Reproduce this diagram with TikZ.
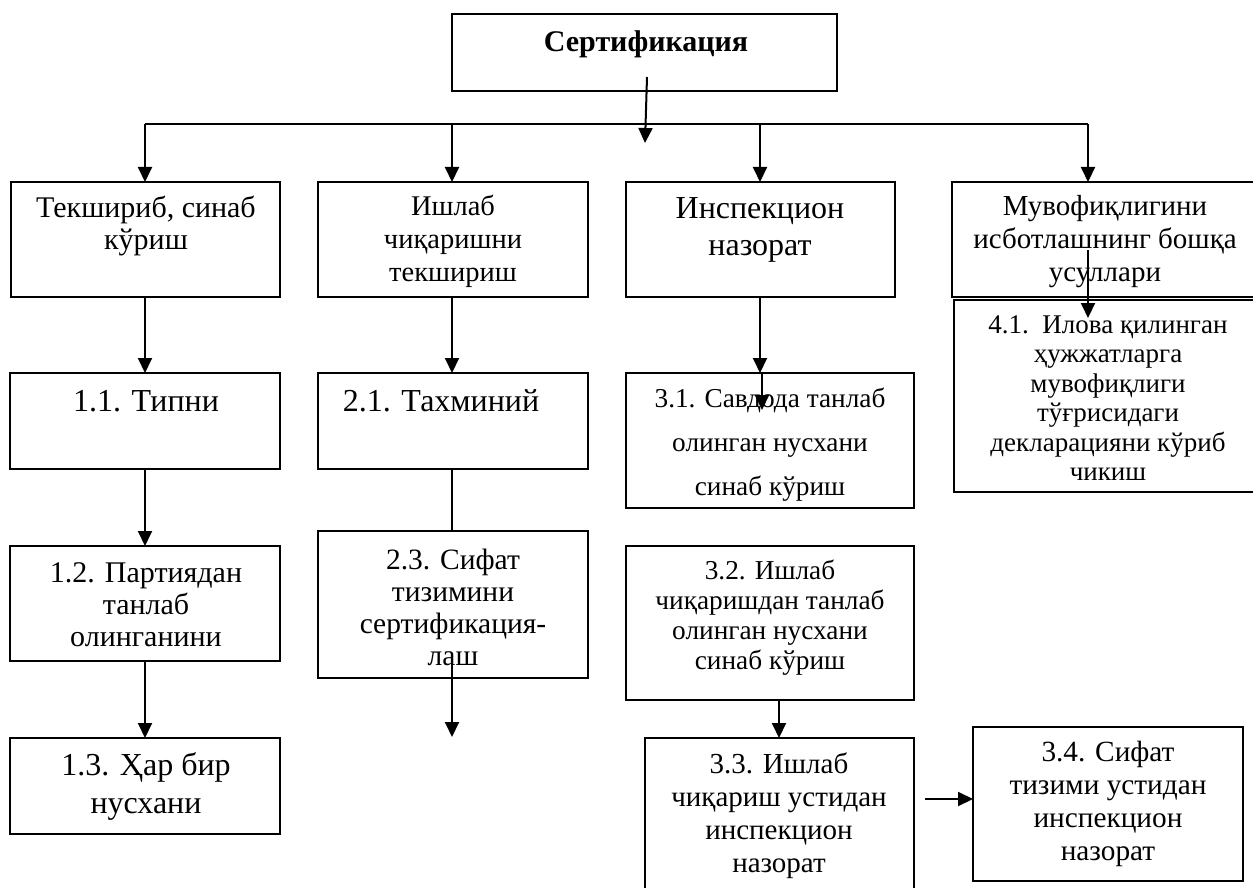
\documentclass[tikz,border=0pt]{standalone}
\usepackage{fontspec}
\setmainfont{Liberation Serif}
\usetikzlibrary{arrows.meta}
\newcommand\mylines[1]{\begin{tabular}[t]{@{}c@{}}#1\end{tabular}}
\begin{document}
\begin{tikzpicture}[x=1pt,y=-1pt,
  bx/.style={draw, line width=2pt, inner sep=0pt, outer sep=0pt},
  tx/.style={inner sep=0pt, anchor=base, font=\fontsize{30}{32}\selectfont},
  arr/.style={line width=2pt, -{Triangle[length=15pt,width=14pt]}},
  ln/.style={line width=2pt}]
\useasboundingbox (0,0) rectangle (1253,888);
% boxes
\node[bx, minimum width=385pt, minimum height=77pt] (top) at (644.5,52.5) {};
\node[bx, minimum width=269pt, minimum height=115pt] (c1) at (145.5,239.5) {};
\node[bx, minimum width=270pt, minimum height=115pt] (c2) at (453,239.5) {};
\node[bx, minimum width=269pt, minimum height=115pt] (c3) at (760.5,239.5) {};
\node[bx, minimum width=310pt, minimum height=115pt] (c4) at (1107,239.5) {};
\node[bx, minimum width=270pt, minimum height=96pt] (b11) at (145,421) {};
\node[bx, minimum width=270pt, minimum height=96pt] (b21) at (453,421) {};
\node[bx, minimum width=288pt, minimum height=135pt] (b31) at (770,440.5) {};
\node[bx, minimum width=308pt, minimum height=192pt] (b41) at (1108,396) {};
\node[bx, minimum width=270pt, minimum height=115pt] (b12) at (145,603.5) {};
\node[bx, minimum width=270pt, minimum height=147pt] (b23) at (453,604.5) {};
\node[bx, minimum width=288pt, minimum height=154pt] (b32) at (770,623) {};
\node[bx, minimum width=270pt, minimum height=96pt] (b13) at (145,786) {};
\node[bx, minimum width=269pt, minimum height=162pt] (b33) at (779.5,819) {};
\node[bx, minimum width=270pt, minimum height=154pt] (b34) at (1108,804) {};
% texts
\node[tx, font=\bfseries\fontsize{30}{34}\selectfont] (ttop) at (646,52) {Сертификация};
\node[tx] (tc1) at (146,217) {\mylines{Текшириб, синаб\\кўриш}};
\node[tx, font=\fontsize{28.5}{33}\selectfont] (tc2) at (453,215) {\mylines{Ишлаб\\чиқаришни\\текшириш}};
\node[tx, font=\fontsize{32}{37}\selectfont] (tc3) at (760,218) {\mylines{Инспекцион\\назорат}};
\node[tx, font=\fontsize{29}{33}\selectfont] (tc4) at (1105,215) {\mylines{Мувофиқлигини\\исботлашнинг бошқа\\усуллари}};
\node[tx, font=\fontsize{32}{33}\selectfont] (t11) at (146,411) {1.1. Типни};
\node[tx, font=\fontsize{32}{33}\selectfont] (t21) at (441,411) {2.1. Тахминий};
\node[tx, font=\fontsize{27.3}{44}\selectfont] (t31) at (770,407) {\mylines{3.1. Савдода танлаб\\олинган нусхани\\синаб кўриш}};
\node[tx, font=\fontsize{27}{29.5}\selectfont] (t41) at (1108,333) {\mylines{4.1.\ \ Илова қилинган\\ҳужжатларга\\мувофиқлиги\\тўғрисидаги\\декларацияни кўриб\\чикиш}};
\node[tx] (t12) at (146,582) {\mylines{1.2. Партиядан\\танлаб\\олинганини}};
\node[tx, font=\fontsize{29.5}{32}\selectfont] (t23) at (453,569) {\mylines{2.3. Сифат\\тизимини\\сертификация-\\лаш}};
\node[tx, font=\fontsize{27.3}{30}\selectfont] (t32) at (770,579) {\mylines{3.2. Ишлаб\\чиқаришдан танлаб\\олинган нусхани\\синаб кўриш}};
\node[tx, font=\fontsize{32}{38}\selectfont] (t13) at (146,775) {\mylines{1.3. Ҳар бир\\нусхани}};
\node[tx, font=\fontsize{29}{33}\selectfont] (t33) at (779,773) {\mylines{3.3. Ишлаб\\чиқариш устидан\\инспекцион\\назорат}};
\node[tx, font=\fontsize{29.3}{33}\selectfont] (t34) at (1108,761) {\mylines{3.4. Сифат\\тизими устидан\\инспекцион\\назорат}};
% connectors
\coordinate (tA) at (647,77);
\coordinate (tB) at (645,143);
\draw[arr] (tA) -- (tB);
\coordinate (bus1) at (145,124);
\coordinate (bus2) at (452,124);
\coordinate (bus3) at (760,124);
\coordinate (bus4) at (1088,124);
\draw[ln] (bus1) -- (bus4);
\draw[arr] (bus1) -- (bus1 |- c1.north);
\draw[arr] (bus2) -- (bus2 |- c2.north);
\draw[arr] (bus3) -- (bus3 |- c3.north);
\draw[arr] (bus4) -- (bus4 |- c4.north);
\draw[arr] (bus1 |- c1.south) -- (bus1 |- b11.north);
\draw[arr] (bus2 |- c2.south) -- (bus2 |- b21.north);
\draw[arr] (bus3 |- c3.south) -- (bus3 |- b31.north);
\coordinate (s31a) at (762,373);
\coordinate (s31b) at (762,410);
\draw[arr] (s31a) -- (s31b);
\coordinate (c4in) at (1088,250);
\coordinate (c4tip) at (1088,318);
\draw[arr] (c4in) -- (c4tip);
\draw[arr] (bus1 |- b11.south) -- (bus1 |- b12.north);
\draw[ln] (bus2 |- b21.south) -- (bus2 |- b23.north);
\coordinate (s23a) at (452,664);
\coordinate (s23b) at (452,737);
\draw[arr] (s23a) -- (s23b);
\draw[arr] (bus1 |- b12.south) -- (bus1 |- b13.north);
\coordinate (x33) at (779,700);
\draw[arr] (x33 |- b32.south) -- (x33 |- b33.north);
\coordinate (a33) at (925,799);
\draw[arr] (a33) -- (a33 -| b34.west);
\end{tikzpicture}
\end{document}
